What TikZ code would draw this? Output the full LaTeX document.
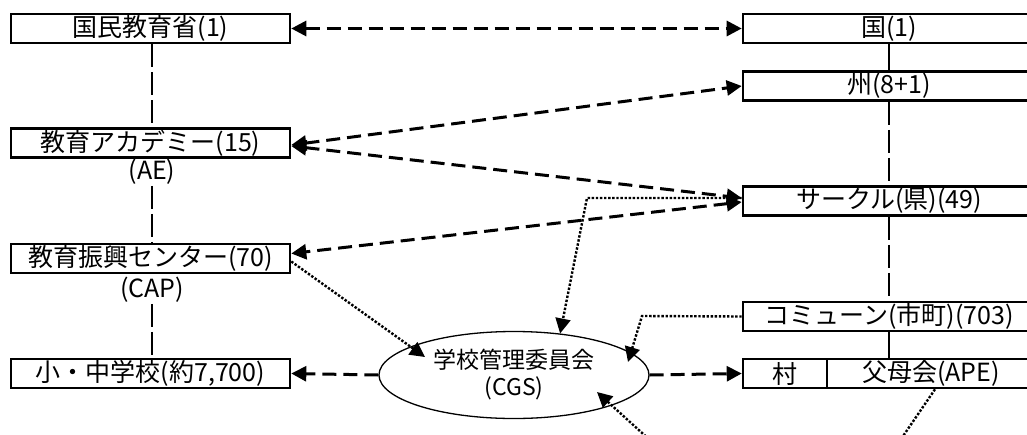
\documentclass[tikz,border=0pt]{standalone}
\usepackage{fontspec}
\setmainfont{Noto Sans CJK JP}
\usetikzlibrary{arrows.meta,shapes.geometric,calc}
\begin{document}
\begin{tikzpicture}[x=1pt,y=-1pt,
  >={Triangle[length=15pt,width=15pt]},
  box/.style={draw,line width=2.6pt,rectangle,inner sep=0pt,minimum height=29pt,font=\fontsize{25}{28}\selectfont},
  lbl/.style={inner sep=1pt,font=\fontsize{25}{28}\selectfont},
  struct/.style={line width=1.1pt,dash pattern=on 23pt off 5pt},
  solidlink/.style={line width=1.1pt},
  dlink/.style={line width=3pt,dash pattern=on 14pt off 7pt},
  dotlink/.style={line width=2.4pt,dash pattern=on 2.4pt off 1.7pt}
]
\useasboundingbox (0,0) rectangle (1027,434);
\clip (0,0) rectangle (1027,434);
\fill[white] (0,0) rectangle (1027,434);

% left column
\node[box,minimum width=279pt] (L1) at (150.5,28.5) {国民教育省(1)};
\node[box,minimum width=279pt] (L2) at (150.5,143) {教育アカデミー(15)};
\node[lbl] (AE) at (152,172) {(AE)};
\node[box,minimum width=279pt] (L3) at (150.5,258.5) {教育振興センター(70)};
\node[lbl] (CAP) at (152,290) {(CAP)};
\node[box,minimum width=279pt] (L4) at (150.5,373.5) {小・中学校(約7,700)};

% right column
\node[box,minimum width=292pt] (R1) at (889,28.5) {国(1)};
\node[box,minimum width=292pt] (R2) at (889,86) {州(8+1)};
\node[box,minimum width=292pt] (R3) at (889,201) {サークル(県)(49)};
\node[box,minimum width=292pt] (R4) at (889,316.5) {コミューン(市町)(703)};
\node[box,minimum width=84pt] (R5) at (785,373.5) {村};
\node[box,minimum width=208pt] (R6) at (931,373.5) {父母会(APE)};

% centre
\node[ellipse,draw,line width=1.3pt,minimum width=270pt,minimum height=87pt,inner sep=0pt,align=center,
      font=\fontsize{23}{27}\selectfont] (CGS) at (514,375) {学校管理委員会\\(CGS)};

% structural lines
\draw[struct] (L1.south -| AE.south) -- (L2.north -| AE.south);
\draw[struct] (AE.south) -- (AE.south |- L3.north);
\draw[struct] (CAP.south) -- (CAP.south |- L4.north);
\draw[solidlink] (R1.south) -- (R2.north);
\draw[struct] (R2.south) -- (R3.north);
\draw[struct] (R3.south) -- (R4.north);
\draw[solidlink] (R4.south) -- (R4.south |- R6.north);

% dashed relations
\draw[dlink,<->] (L1.east) -- (R1.west);
\draw[dlink,<->] ([yshift=-2pt]L2.east) -- (R2.west);
\draw[dlink,<->] ([yshift=-3pt]L2.east) -- ([yshift=3pt]R3.west);
\draw[dlink,<->] ([yshift=-1pt]R3.west) -- ([yshift=5pt]L3.east);
\draw[dlink,->] (CGS.west) -- (L4.east);
\draw[dlink,->] (CGS.east) -- (R5.west);

% dotted relations
\coordinate (k1) at (587,198);
\coordinate (k2) at (642,316);
\coordinate (t1) at ($(CGS.center)+(-89,-18)$);
\coordinate (t2) at ($(CGS.center)+(114,-13)$);
\coordinate (t3) at ($(CGS.center)+(83,17)$);
\coordinate (f1) at (652,442);
\coordinate (f2) at (899,442);
\draw[dotlink,->] ([yshift=3pt]R3.west) -- (k1) -- (CGS.42);
\draw[dotlink,->] ([yshift=-3pt]L3.east) -- (t1);
\draw[dotlink,->] (R4.west) -- (k2) -- (t2);
\draw[dotlink,->] (f1) -- (t3);
\draw[dotlink] ([xshift=4pt]R6.south) -- (f2);
\end{tikzpicture}
\end{document}
